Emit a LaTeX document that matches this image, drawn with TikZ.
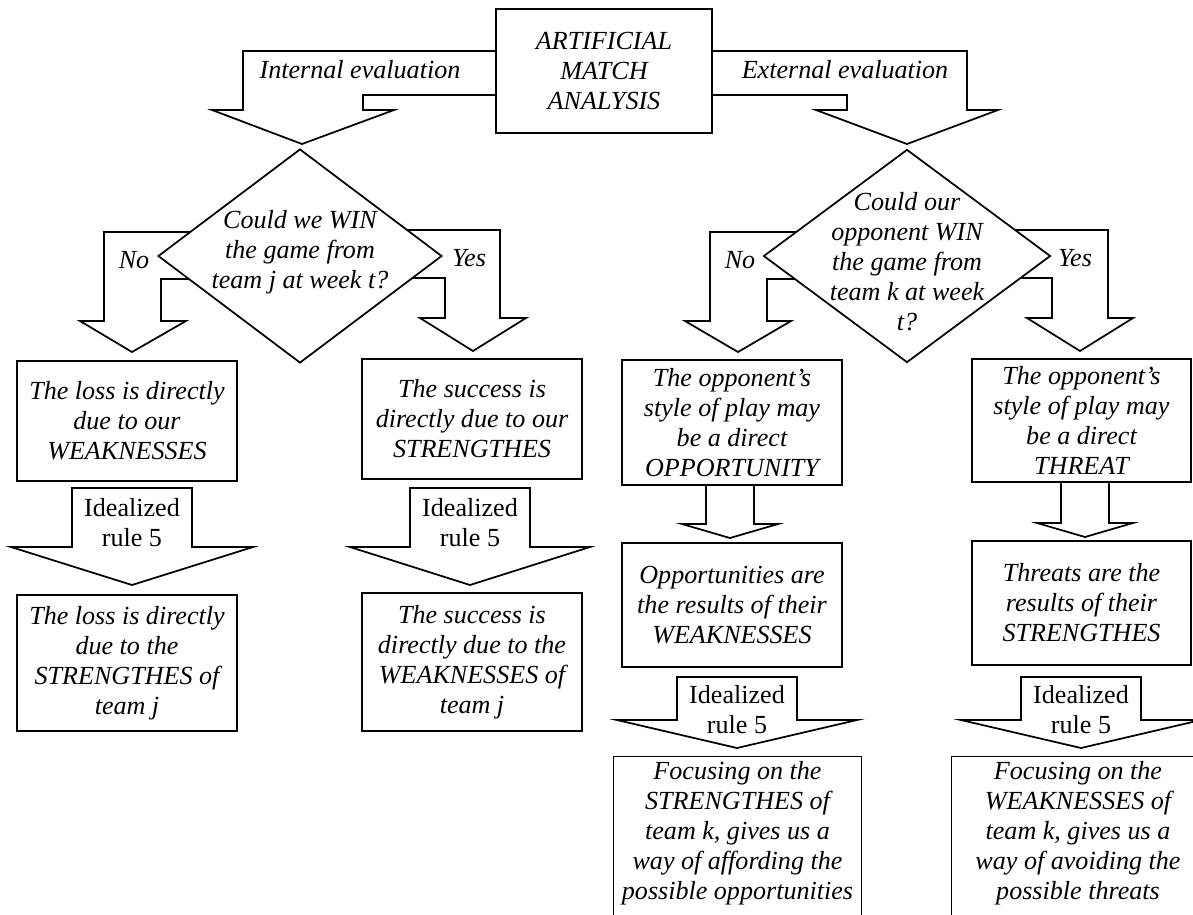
\documentclass[tikz,border=0pt]{standalone}
\usepackage{fontspec}
\setmainfont{Liberation Serif}
\usetikzlibrary{shapes.geometric}
\tikzset{
  txt/.style={font=\fontsize{12}{13.8}\selectfont\itshape, align=center, inner sep=0pt},
  rul/.style={font=\fontsize{12}{13.8}\selectfont, align=center, inner sep=0pt},
  box/.style={txt, draw, fill=white, line width=0.8pt, minimum width=101.2pt},
  blk/.style={draw, fill=white, line width=0.8pt, line join=miter},
}
% straight block arrow: x, top, base, tip, half shaft, half head
\newcommand{\blockdown}[6]{%
  \draw[blk] ({#1-#5},#2) -- ({#1+#5},#2) -- ({#1+#5},#3) -- ({#1+#6},#3) -- (#1,#4) -- ({#1-#6},#3) -- ({#1-#5},#3) -- cycle;}
\begin{document}
\begin{tikzpicture}[x=0.46pt,y={(0pt,-0.46pt)}]
  \useasboundingbox (0,0) rectangle (1193,914);
  \clip (0,0) rectangle (1193,914);
  % bent arrows from the top box
  \draw[blk] (496,51) -- (243,51) -- (243,110) -- (212,110) -- (302,144) -- (394,110) -- (363,110) -- (363,95) -- (496,95);%internal
  \draw[blk] (712,51) -- (967,51) -- (967,110) -- (998,110) -- (907,144) -- (816,110) -- (847,110) -- (847,95) -- (712,95);%external
  % No / Yes arrows
  \draw[blk] (240,232) -- (104,232) -- (104,321) -- (80,321) -- (132,352) -- (186,321) -- (161,321) -- (161,279) -- (240,279);
  \draw[blk] (360,230) -- (500,230) -- (500,318) -- (526,318) -- (473,351) -- (420,318) -- (445,318) -- (445,278) -- (360,278);
  \draw[blk] (820,232) -- (710,232) -- (710,321) -- (685,321) -- (738,352) -- (791,321) -- (767,321) -- (767,279) -- (820,279);
  \draw[blk] (990,230) -- (1108,230) -- (1108,318) -- (1133,318) -- (1080,351) -- (1027,318) -- (1052,318) -- (1052,278) -- (990,278);
  % straight arrows
  \blockdown{132}{488}{547}{585}{60}{121}
  \blockdown{470}{488}{547}{585}{60}{120}
  \blockdown{730}{485}{524}{538}{24}{48}
  \blockdown{1085}{482}{523}{537}{24}{48}
  \blockdown{737}{677}{720}{748}{60}{120}
  \blockdown{1081}{677}{720}{748}{60}{120}
  % top box and decisions
  \node[box, minimum width=99.4pt, minimum height=57pt] (ama) at (604,71) {ARTIFICIAL\\MATCH\\ANALYSIS};
  \node[diamond, draw, fill=white, line width=0.8pt, inner sep=0pt, minimum width=130.6pt, minimum height=98.4pt] (win) at (300,256) {};
  \node[txt] (wintxt) at (300,252) {Could we WIN\\the game from\\team j at week t?};
  \node[diamond, draw, fill=white, line width=0.8pt, inner sep=0pt, minimum width=132pt, minimum height=98pt] (opwin) at (907,256) {};
  \node[txt] (opwintxt) at (907,262) {Could our\\opponent WIN\\the game from\\team k at week\\t?};
  % labels on arrows
  \node[txt] (intl) at (360,70) {Internal evaluation};
  \node[txt] (extl) at (845,70) {External evaluation};
  \node[txt] (no1) at (134,260) {No};
  \node[txt] (yes1) at (469,258) {Yes};
  \node[txt] (no2) at (740,260) {No};
  \node[txt] (yes2) at (1075,258) {Yes};
  \node[rul] (rule1) at (132,523) {Idealized\\rule 5};
  \node[rul] (rule2) at (470,523) {Idealized\\rule 5};
  \node[rul] (rule3) at (737,710) {Idealized\\rule 5};
  \node[rul] (rule4) at (1081,710) {Idealized\\rule 5};
  % boxes
  \node[box, minimum height=55.2pt] (loss) at (127,421) {The loss is directly\\due to our\\WEAKNESSES};
  \node[box, minimum height=55.2pt] (succ) at (472,419) {The success is\\directly due to our\\STRENGTHES};
  \node[box, minimum height=62.6pt] (loss2) at (127,663) {The loss is directly\\due to the\\STRENGTHES of\\team j};
  \node[box, minimum height=63.5pt] (succ2) at (472,662) {The success is\\directly due to the\\WEAKNESSES of\\team j};
  \node[box, minimum height=57.5pt] (opp) at (732,422.5) {The opponent's\\style of play may\\be a direct\\OPPORTUNITY};
  \node[box, minimum width=100.7pt, minimum height=56.6pt] (thr) at (1081.5,420.5) {The opponent's\\style of play may\\be a direct\\THREAT};
  \node[box, minimum height=57pt] (opp2) at (732,605) {Opportunities are\\the results of their\\WEAKNESSES};
  \node[box, minimum width=100.7pt, minimum height=57pt] (thr2) at (1081.5,603) {Threats are the\\results of their\\STRENGTHES};
  \node[txt, minimum width=113.6pt, minimum height=69.9pt] (foc) at (737.5,833) {Focusing on the\\STRENGTHES of\\team k, gives us a\\way of affording the\\possible opportunities};
  \node[txt, minimum width=115.9pt, minimum height=69.9pt] (foc2) at (1078,833) {Focusing on the\\WEAKNESSES of\\team k, gives us a\\way of avoiding the\\possible threats};
  \draw[line width=0.8pt] ([yshift=-20pt]foc.south west) |- (foc.north east) -- ([yshift=-20pt]foc.south east);
  \draw[line width=0.8pt] ([yshift=-20pt]foc2.south west) |- (foc2.north east) -- ([yshift=-20pt]foc2.south east);
\end{tikzpicture}
\end{document}
